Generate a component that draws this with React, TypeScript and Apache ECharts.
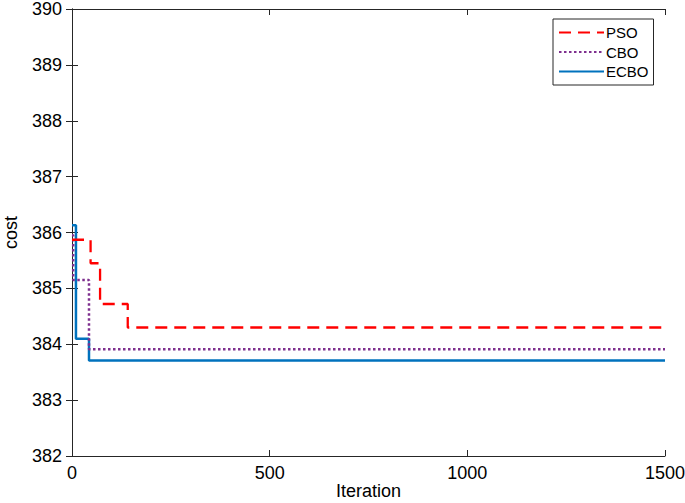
import React, { useEffect, useRef } from "react";
import * as echarts from "echarts";

const seriesNames = ["PSO", "CBO", "ECBO"];
const psoIter = [0, 47, 71, 141, 1500];
const psoCost = [385.87, 385.45, 384.72, 384.3, 384.3];
const cboIter = [0, 3, 43, 1500];
const cboCost = [385.95, 385.15, 383.91, 383.91];
const ecboIter = [0, 10, 43, 1500];
const ecboCost = [386.13, 384.1, 383.71, 383.71];
const yMin = 382;
const yMax = 390;

const pairs = (xs: number[], ys: number[]) => xs.map((x, i) => [x, ys[i]]);

export default function App() {
  const ref = useRef<HTMLDivElement>(null);
  useEffect(() => {
    const chart = echarts.init(ref.current!, null, { renderer: "svg" });
    const font = "'Liberation Sans', Arial, sans-serif";
    const axisCol = "#262626";
    const common = {
      axisLine: { show: true, lineStyle: { color: axisCol, width: 1 } },
      axisTick: { show: true, inside: true, length: 6, lineStyle: { color: axisCol } },
      splitLine: { show: false },
    };
    chart.setOption({
      animation: false,
      backgroundColor: "#ffffff",
      textStyle: { fontFamily: font },
      grid: {
        left: 72,
        right: 20,
        top: 9,
        bottom: 47,
        containLabel: false,
        outerBoundsMode: "none",
      },
      legend: {
        orient: "vertical",
        left: 553,
        top: 19,
        width: 100,
        padding: [6, 5, 6, 5],
        itemWidth: 45,
        itemHeight: 14,
        itemGap: 4.5,
        borderColor: axisCol,
        borderWidth: 1,
        backgroundColor: "#ffffff",
        itemStyle: { opacity: 0 },
        textStyle: { fontSize: 15, color: "#000", fontFamily: font, padding: [0, 0, 0, -3] },
        data: seriesNames,
      },
      xAxis: [
        {
          type: "value",
          min: 0,
          max: 1500,
          interval: 500,
          name: "Iteration",
          nameLocation: "middle",
          nameGap: 27,
          nameMoveOverlap: false,
          nameTextStyle: { fontSize: 18, color: "#000", fontFamily: font, lineHeight: 16 },
          axisLabel: {
            fontSize: 18,
            color: "#000",
            margin: 8,
            fontFamily: font,
            formatter: (v: number) => String(v),
          },
          ...common,
        },
        {
          type: "value",
          position: "top",
          min: 0,
          max: 1500,
          interval: 500,
          axisLabel: { show: false },
          ...common,
        },
      ],
      yAxis: [
        {
          type: "value",
          min: yMin,
          max: yMax,
          interval: 1,
          name: "cost",
          nameLocation: "middle",
          nameGap: 53,
          nameMoveOverlap: false,
          nameTextStyle: { fontSize: 18, color: "#000", fontFamily: font, lineHeight: 16 },
          axisLabel: { fontSize: 18, color: "#000", margin: 10, fontFamily: font, lineHeight: 16 },
          ...common,
        },
        {
          type: "value",
          position: "right",
          min: yMin,
          max: yMax,
          interval: 1,
          axisLabel: { show: false },
          ...common,
        },
      ],
      series: [
        {
          name: seriesNames[0],
          type: "line",
          step: "end",
          symbol: "none",
          data: pairs(psoIter, psoCost),
          lineStyle: { color: "#ff0000", width: 2.3, type: [12, 7] },
          itemStyle: { color: "#ff0000" },
          z: 3,
        },
        {
          name: seriesNames[1],
          type: "line",
          step: "end",
          symbol: "none",
          data: pairs(cboIter, cboCost),
          lineStyle: { color: "#7e2f8e", width: 2.5, type: [2.5, 2.5] },
          itemStyle: { color: "#7e2f8e" },
          z: 2,
        },
        {
          name: seriesNames[2],
          type: "line",
          step: "end",
          symbol: "none",
          data: pairs(ecboIter, ecboCost),
          lineStyle: { color: "#0072bd", width: 2.5, type: "solid" },
          itemStyle: { color: "#0072bd" },
          z: 1,
        },
      ],
    });
    return () => chart.dispose();
  }, []);
  return (
    <div style={{ position: "absolute", left: 0, top: 0 }}>
      <div ref={ref} style={{ width: 685, height: 503 }} />
    </div>
  );
}
